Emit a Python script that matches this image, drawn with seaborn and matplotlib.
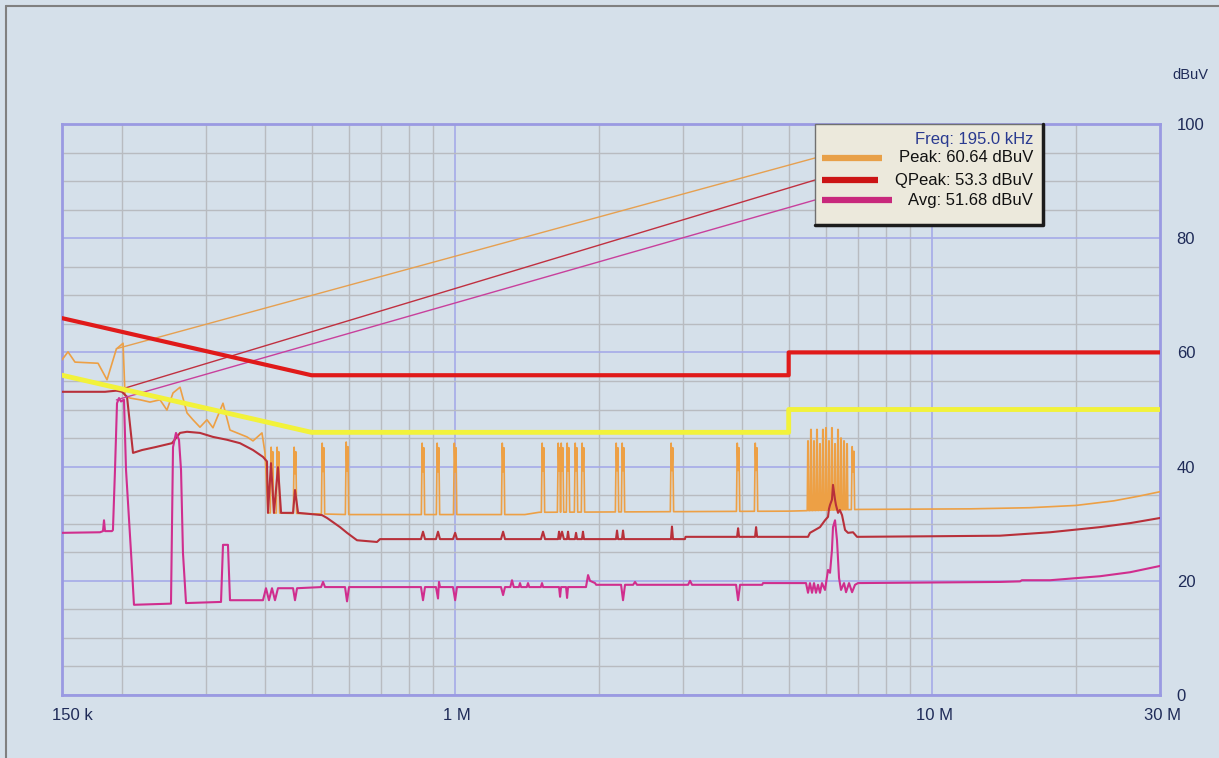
import numpy as np
import pandas as pd
import matplotlib
matplotlib.use("Agg")
import matplotlib.pyplot as plt
from matplotlib.ticker import FixedLocator, NullFormatter, FixedFormatter
from matplotlib.patches import Rectangle, ConnectionPatch
from matplotlib.lines import Line2D
import seaborn as sns

sns.set_style("white")
plt.rcParams["font.family"] = ["Liberation Sans", "DejaVu Sans"]

# ---------------- data (frequency in MHz, level in dBuV) ----------------
qp_limit_f = [0.15, 0.5, 5.0, 5.0, 30.0]
qp_limit_db = [66, 56, 56, 60, 60]
avg_limit_f = [0.15, 0.5, 5.0, 5.0, 30.0]
avg_limit_db = [56, 46, 46, 50, 50]

# Peak trace, low-frequency part
peak_low_f = [0.150, 0.1544, 0.1597, 0.1785, 0.1864, 0.1950, 0.2014, 0.2033, 0.2083,
              0.2186, 0.2293, 0.2407, 0.2489, 0.2563, 0.2651, 0.2742, 0.2822, 0.2919,
              0.3019, 0.3108, 0.3262, 0.3374, 0.3490, 0.3662, 0.3770, 0.3937, 0.3995, 0.4053]
peak_low_db = [58.7, 60.1, 58.3, 58.1, 55.2, 60.6, 61.6, 52.5, 52.0,
               51.7, 51.3, 51.7, 49.9, 52.9, 53.9, 49.4, 48.2, 46.9,
               48.2, 46.8, 51.1, 46.4, 45.9, 45.2, 44.5, 45.9, 42.4, 31.9]
# Peak noise floor above 400 kHz
peak_floor_f = [0.4053, 0.60, 1.40, 1.50, 5.0, 7.0, 12.0, 16.0, 20.0, 24.0, 27.0, 30.0]
peak_floor_db = [31.9, 31.6, 31.6, 32.0, 32.2, 32.5, 32.6, 32.8, 33.2, 34.0, 34.8, 35.6]
# isolated peak spikes
spike_f = [0.4132, 0.4253, 0.4617, 0.5286, 0.5935, 0.8563, 0.9206, 1.000, 1.2603, 1.528,
           1.651, 1.675, 1.724, 1.792, 1.853, 2.184, 2.248, 2.847, 3.917, 4.272, 6.82]
spike_db = [43.4, 43.4, 43.4, 44.1, 44.3, 44.1, 44.1, 44.1, 44.1, 44.1,
            44.1, 44.1, 44.1, 44.1, 44.1, 44.1, 44.1, 44.1, 44.1, 44.1, 43.5]
# dense burst of peak spikes around 6 MHz
burst_f = [5.489, 5.568, 5.650, 5.732, 5.815, 5.899, 5.986, 6.073, 6.161, 6.253,
           6.344, 6.436, 6.531, 6.626]
burst_db = [44.5, 46.5, 44.5, 46.5, 44.0, 46.5, 46.8, 44.5, 46.8, 44.0,
            46.5, 45.0, 44.5, 44.0]

qpeak_f = [0.150, 0.1846, 0.195, 0.2004, 0.2053, 0.2113, 0.2207, 0.2350, 0.2550, 0.2651,
           0.2742, 0.2919, 0.3108, 0.3325, 0.3541, 0.3770, 0.3956, 0.4033, 0.4053, 0.4112,
           0.4172, 0.4253, 0.4317, 0.4574, 0.4617, 0.4686, 0.5261, 0.5390, 0.5738, 0.5935,
           0.6228, 0.6858, 0.6959,
           0.8481, 0.8563, 0.8646, 0.9117, 0.9206, 0.9294, 0.9895, 1.000, 1.0088,
           1.2477, 1.2603, 1.2720, 1.513, 1.528, 1.543, 1.643, 1.651, 1.659, 1.675, 1.690,
           1.716, 1.724, 1.732, 1.783, 1.792, 1.801, 1.844, 1.853, 1.862,
           2.173, 2.184, 2.195, 2.237, 2.248, 2.259, 2.833, 2.847, 2.861, 3.030, 3.040,
           3.898, 3.917, 3.936, 4.251, 4.272, 4.293,
           5.489, 5.541, 5.677, 5.815, 5.958, 6.045, 6.073, 6.104, 6.161, 6.192, 6.253,
           6.280, 6.344, 6.400, 6.468, 6.563, 6.657, 6.820, 6.954,
           10.0, 13.86, 17.65, 22.46, 25.97, 30.0]
qpeak_db = [53.1, 53.1, 53.3, 53.1, 52.2, 42.4, 42.9, 43.4, 44.1, 45.9,
            46.1, 45.9, 45.2, 44.7, 44.1, 42.9, 41.7, 40.9, 31.9, 40.6,
            31.9, 39.9, 31.9, 31.9, 35.9, 31.9, 31.5, 31.0, 29.4, 28.4,
            27.1, 26.8, 27.3,
            27.3, 28.6, 27.3, 27.3, 28.6, 27.3, 27.3, 28.4, 27.3,
            27.3, 28.6, 27.3, 27.3, 28.6, 27.3, 27.3, 28.6, 27.3, 28.6, 27.3,
            27.3, 28.6, 27.3, 27.3, 28.4, 27.3, 27.3, 28.6, 27.3,
            27.3, 28.8, 27.3, 27.3, 28.8, 27.3, 27.3, 29.5, 27.3, 27.3, 27.7,
            27.7, 29.2, 27.7, 27.7, 29.4, 27.7,
            27.7, 28.4, 28.9, 29.4, 30.6, 31.2, 32.6, 33.3, 34.2, 36.8, 34.2,
            33.3, 31.9, 32.4, 31.5, 28.9, 28.4, 28.5, 27.7,
            27.8, 27.9, 28.5, 29.4, 30.1, 31.0]

avg_f = [0.150, 0.1802, 0.1828, 0.1837, 0.1846, 0.1909, 0.1918, 0.1937, 0.1956, 0.1975,
         0.1994, 0.2023, 0.2043, 0.2093, 0.2123, 0.2538, 0.2563, 0.2600, 0.2638, 0.2664,
         0.2689, 0.2729, 0.3231, 0.3262, 0.3341, 0.3374, 0.3956, 0.4014, 0.4072, 0.4132,
         0.4192, 0.4253, 0.4574, 0.4617, 0.4663, 0.5236, 0.5286, 0.5337, 0.5878, 0.5935,
         0.5992, 0.8481, 0.8563, 0.8646, 0.9117, 0.9206, 0.9250, 0.9294, 0.9895, 1.000,
         1.0088, 1.2477, 1.2603, 1.2720, 1.305, 1.3157, 1.327, 1.360, 1.3674, 1.375,
         1.413, 1.4213, 1.430, 1.512, 1.5206, 1.529, 1.651, 1.659, 1.667, 1.708,
         1.716, 1.724, 1.880, 1.899, 1.917, 1.964, 1.975, 2.227, 2.248, 2.270,
         2.360, 2.382, 2.405, 3.077, 3.106, 3.137, 3.879, 3.917, 3.954, 4.400, 4.417,
         5.436, 5.489, 5.541, 5.596, 5.650, 5.704, 5.760, 5.815, 5.872, 5.958,
         6.045, 6.104, 6.161, 6.192, 6.253, 6.313, 6.375, 6.436, 6.531, 6.594,
         6.690, 6.789, 6.886, 6.987, 13.86, 15.27, 15.40, 17.65, 22.46, 25.97, 30.0]
avg_db = [28.4, 28.5, 28.7, 30.6, 28.7, 28.7, 28.9, 39.4, 51.1, 52.0,
          51.4, 51.7, 39.4, 24.9, 15.8, 16.0, 43.4, 45.9, 44.7, 39.4,
          24.9, 16.1, 16.3, 26.3, 26.3, 16.6, 16.6, 18.7, 16.6, 18.7,
          16.6, 18.7, 18.7, 16.6, 18.7, 18.9, 19.8, 18.9, 18.9, 16.4,
          18.9, 18.9, 16.6, 18.9, 18.9, 16.9, 19.8, 18.9, 18.9, 16.6,
          18.9, 18.9, 17.5, 18.9, 18.9, 20.1, 18.9, 18.9, 19.6, 18.9,
          18.9, 19.6, 18.9, 18.9, 19.6, 18.9, 18.9, 17.2, 18.9, 18.9,
          17.0, 18.9, 18.9, 21.0, 20.0, 19.6, 19.3, 19.3, 16.6, 19.3,
          19.3, 19.8, 19.3, 19.3, 20.0, 19.3, 19.3, 16.6, 19.3, 19.3, 19.6,
          19.6, 17.9, 19.6, 17.9, 19.6, 17.9, 19.3, 17.9, 19.6, 18.4,
          21.9, 21.4, 25.4, 29.4, 30.6, 27.1, 20.5, 18.4, 19.6, 18.0,
          19.6, 18.0, 19.3, 19.6, 19.8, 19.9, 20.1, 20.1, 20.8, 21.5, 22.6]

marker_f = 0.195
marker_peak, marker_qpeak, marker_avg = 60.64, 53.3, 51.68

x_tick_vals = [0.15, 1, 10, 30]
x_tick_labels = ["150 k", "1 M", "10 M", "30 M"]
x_minor = [0.2, 0.3, 0.4, 0.5, 0.6, 0.7, 0.8, 0.9, 2, 3, 4, 5, 6, 7, 8, 9, 20]
y_major = [0, 20, 40, 60, 80, 100]
y_minor = [5, 10, 15, 25, 30, 35, 45, 50, 55, 65, 70, 75, 85, 90, 95]

# ---------------- build peak polyline from floor + spikes ----------------
lf_floor = np.log10(peak_floor_f)
def floor_at(f):
    return float(np.interp(np.log10(f), lf_floor, peak_floor_db))

pts = list(zip(peak_low_f, peak_low_db))
rest = list(zip(peak_floor_f[1:], peak_floor_db[1:]))
for f, top in zip(spike_f, spike_db):
    b = floor_at(f)
    rest += [(f * 0.992, b), (f * 0.996, top), (f, b + (top - b) * 0.6),
             (f * 1.004, top - 0.8), (f * 1.008, b)]
for f, top in zip(burst_f, burst_db):
    b = floor_at(f)
    rest += [(f * 0.9962, b), (f * 0.999, top), (f * 1.001, top), (f * 1.0038, b)]
rest.sort(key=lambda p: p[0])
pts += rest
peak_f = [p[0] for p in pts]
peak_db = [p[1] for p in pts]

# ---------------- figure ----------------
W, H = 1219, 758
bg = "#d5e0ea"
fig = plt.figure(figsize=(W / 100, H / 100), dpi=100, facecolor=bg)
ax = fig.add_axes([62 / W, 63 / H, 1098 / W, 571 / H])
ax.set_facecolor(bg)
ax.set_xscale("log")
ax.set_xlim(0.15, 30)
ax.set_ylim(0, 100)

frame_c = "#9a9ae2"
major_c = "#a6aae8"
minor_c = "#b8bbc0"
label_c = "#1f2b58"

ax.xaxis.set_major_locator(FixedLocator([1, 10]))
ax.xaxis.set_minor_locator(FixedLocator(x_minor))
ax.xaxis.set_major_formatter(NullFormatter())
ax.xaxis.set_minor_formatter(NullFormatter())
ax.yaxis.set_major_locator(FixedLocator(y_major))
ax.yaxis.set_minor_locator(FixedLocator(y_minor))
ax.yaxis.set_major_formatter(FixedFormatter([str(v) for v in y_major]))
ax.yaxis.tick_right()
ax.tick_params(axis="both", which="both", length=0)
ax.tick_params(axis="y", which="major", pad=12, labelsize=12, labelcolor=label_c)
ax.grid(which="major", color=major_c, lw=1.2, zorder=0)
ax.grid(which="minor", color=minor_c, lw=1.0, zorder=0)
ax.set_axisbelow(True)
for s in ax.spines.values():
    s.set_color(frame_c)
    s.set_linewidth(2)
for lab in ax.get_yticklabels():
    lab.set_horizontalalignment("left")

for v, t in zip(x_tick_vals, x_tick_labels):
    dx = -10 if v == x_tick_vals[0] else 2
    ha = "left" if v == x_tick_vals[0] else "center"
    ax.annotate(t, xy=(v, 0), xycoords=("data", "axes fraction"),
                xytext=(dx, -20), textcoords="offset pixels",
                ha=ha, va="center", fontsize=12, color=label_c, annotation_clip=False)
fig.text(1190 / W, 1 - 75 / H, "dBuV", ha="center", va="center", fontsize=10.5, color=label_c)

# traces
c_peak, c_qp, c_avg = "#eda045", "#b8303a", "#d02e8e"
sns.lineplot(x=peak_f, y=peak_db, ax=ax, color=c_peak, lw=1.2, estimator=None, sort=False, zorder=3)
sns.lineplot(x=qpeak_f, y=qpeak_db, ax=ax, color=c_qp, lw=1.5, estimator=None, sort=False, zorder=4)
sns.lineplot(x=avg_f, y=avg_db, ax=ax, color=c_avg, lw=1.5, estimator=None, sort=False, zorder=4)

# limit lines
sns.lineplot(x=avg_limit_f, y=avg_limit_db, ax=ax, color="#f2f23a", lw=3.5, estimator=None, sort=False, zorder=6)
sns.lineplot(x=qp_limit_f, y=qp_limit_db, ax=ax, color="#e01a1a", lw=3, estimator=None, sort=False, zorder=6)

# legend box (marker readout)
bx0, by0, bw, bh = 0.6858, 0.8231, 0.2076, 0.1769
ax.add_patch(Rectangle((bx0, by0), bw, bh, transform=ax.transAxes, facecolor="#ece9dc",
                       edgecolor="#707070", lw=1, zorder=10, clip_on=False))
ax.add_line(Line2D([bx0 + bw, bx0 + bw, bx0], [by0 + bh, by0, by0], transform=ax.transAxes,
                   color="#1c1c1c", lw=2.5, zorder=11, clip_on=False))
rows_y = [0.9405, 0.9019, 0.8669]
sw_end = [0.7468, 0.7432, 0.7559]
sw_cols = ["#e8a048", "#cc1414", "#c8287c"]
lead_cols = ["#e6a050", "#c03040", "#c8409c"]
vals = [marker_peak, marker_qpeak, marker_avg]
texts = [f"Peak: {marker_peak:.2f} dBuV", f"QPeak: {marker_qpeak:.1f} dBuV", f"Avg: {marker_avg:.2f} dBuV"]
for yy, xe, sc, lc, v, t in zip(rows_y, sw_end, sw_cols, lead_cols, vals, texts):
    ax.add_line(Line2D([0.6922, xe], [yy, yy], transform=ax.transAxes, color=sc, lw=4.5,
                       solid_capstyle="butt", zorder=12, clip_on=False))
    ax.text(0.8843, yy, t, transform=ax.transAxes, ha="right", va="center", fontsize=12,
            color="#111111", zorder=12)
    con = ConnectionPatch(xyA=(marker_f, v), coordsA="data", xyB=(bx0, yy), coordsB="axes fraction",
                          axesA=ax, axesB=ax, color=lc, lw=1.0, zorder=5)
    ax.add_artist(con)
ax.text(0.8843, 0.972, f"Freq: {marker_f * 1000:.1f} kHz", transform=ax.transAxes, ha="right",
        va="center", fontsize=12, color="#2a3a90", zorder=12)

# outer panel border
fig.add_artist(Line2D([6 / W, 6 / W], [0, 1 - 6 / H], transform=fig.transFigure, color="#808080", lw=1.5))
fig.add_artist(Line2D([6 / W, 1], [1 - 6 / H, 1 - 6 / H], transform=fig.transFigure, color="#808080", lw=1.5))

fig.savefig("out.png", dpi=100, facecolor=bg)
